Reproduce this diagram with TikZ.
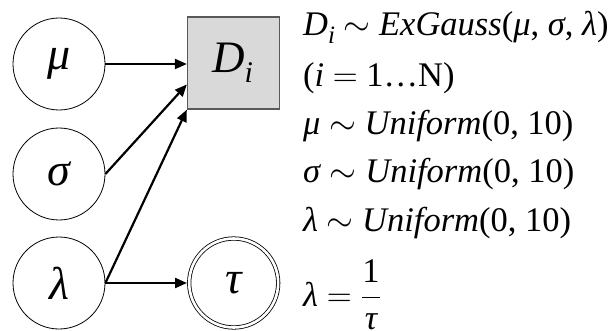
\RequirePackage{fix-cm}
\documentclass[tikz,border=0pt]{standalone}
\usepackage{fontspec}
\setmainfont{Liberation Serif}
\usetikzlibrary{arrows.meta,calc}
\tikzset{
  var/.style={circle,draw=black,line width=0.8pt,minimum size=92pt,inner sep=0pt,
    font=\fontsize{46}{46}\selectfont\itshape},
  detvar/.style={circle,draw=black,line width=0.8pt,double=white,double distance=2.6pt,
    minimum size=89pt,inner sep=0pt,font=\fontsize{46}{46}\selectfont\itshape},
  obs/.style={rectangle,draw=black!65,fill=black!15,line width=1.3pt,minimum size=92pt,inner sep=0pt,
    font=\fontsize{45}{45}\selectfont\itshape},
  edge/.style={line width=2.2pt,-{Triangle[length=12pt,width=10pt]}},
  eq/.style={anchor=base west,inner sep=0pt,font=\fontsize{34.5}{34.5}\selectfont}
}
\newcommand{\isub}[3]{\raisebox{-#2pt}{\fontsize{#1}{#1}\selectfont\itshape #3}}
\begin{document}
\begin{tikzpicture}[x=1pt,y=-1pt]
\useasboundingbox (0,0) rectangle (610,331);
\node[var] (mu) at (59,64) {μ};
\node[var] (sg) at (59,174) {σ};
\node[var] (lm) at (59,283) {λ};
\node[obs] (D) at (233.5,63) {\raisebox{-4pt}{D\isub{30}{10}{i}}\kern2pt};
\node[detvar] (tau) at (233.7,283) {τ};
\coordinate (Dsg) at ($(D.north west)!0.73!(D.south west)$);
\draw[edge] (mu.east) -- (mu.east -| D.west);
\draw[edge] (sg.east) -- (Dsg);
\draw[edge] (lm.east) -- (D.south west);
\draw[edge,shorten >=1.8pt] (lm.east) -- (tau.west);
\node[eq] (l1) at (303,36) {\textit{D}\isub{25}{8}{i} $\sim$ \textit{ExGauss}(\textit{μ}, \textit{σ}, \textit{λ})};
\node[eq] (l2) at (303,87) {(\textit{i} $=$ 1…N)};
\node[eq] (l3) at (303,135) {\textit{μ} $\sim$ \textit{Uniform}(0, 10)};
\node[eq] (l4) at (303,183) {\textit{σ} $\sim$ \textit{Uniform}(0, 10)};
\node[eq] (l5) at (303,231) {\textit{λ} $\sim$ \textit{Uniform}(0, 10)};
\node[eq] (l6) at (303,306) {\textit{λ} $=\displaystyle\frac{\mbox{1}}{\mbox{\rule{0pt}{20pt}\itshape τ}}$};
\end{tikzpicture}
\end{document}
